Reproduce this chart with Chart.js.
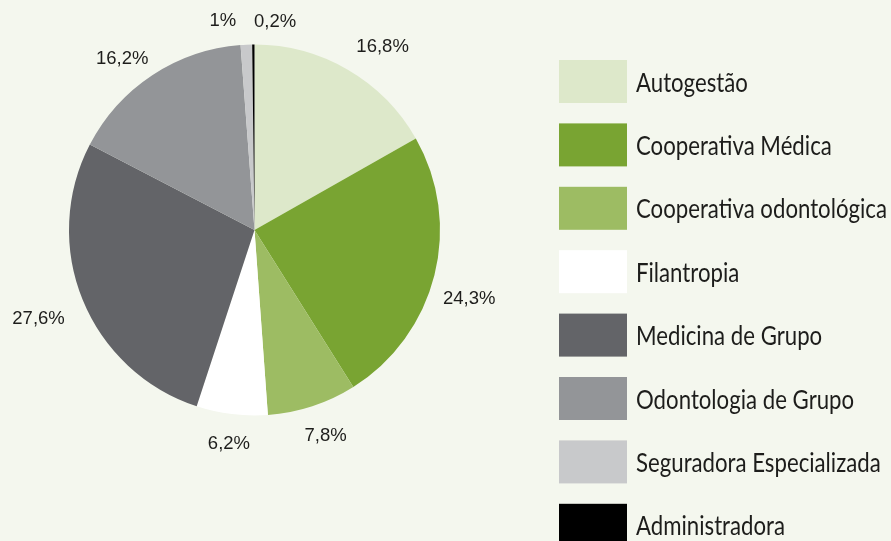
<!DOCTYPE html>
<html lang="pt-BR">
<head>
<meta charset="utf-8">
<title>Distribuição por modalidade</title>
<script src="https://cdn.jsdelivr.net/npm/chart.js@4.4.1/dist/chart.umd.min.js"></script>
<style>
  html, body { margin: 0; padding: 0; background: #f4f7ee; }
  #wrap { position: relative; width: 891px; height: 541px; }
</style>
</head>
<body>
<div id="wrap"><canvas id="pizza"></canvas></div>
<script>
// modalidades, na ordem em que as fatias aparecem (sentido horario a partir do topo)
const MODALIDADES = [
  'Autogestão',
  'Cooperativa Médica',
  'Cooperativa odontológica',
  'Filantropia',
  'Medicina de Grupo',
  'Odontologia de Grupo',
  'Seguradora Especializada',
  'Administradora',
];
const PERCENTUAIS = [16.8, 24.3, 7.8, 6.2, 27.6, 16.2, 1, 0.2];
const CORES = ['#dde8ca', '#79a432', '#9dbc63', '#ffffff', '#636468', '#939598', '#c8c9cb', '#000000'];

// ajuste fino dos rotulos: angulo (graus) e distancia radial (px)
// separa as fatias pequenas do topo e acompanha o original
const AJUSTE_ANGULO = [4.8, 3.8, -0.9, -0.2, -0.1, -4.3, -6.1, 6.0];
const AJUSTE_RAIO = [0, -4, 1.5, 3.5, 4, -8, 0, -2];

const COR_TEXTO = '#1d1d1b';

const fmt = (v) => String(v).replace('.', ',') + '%';

// rotulos de percentual fora da pizza
const rotulosPlugin = {
  id: 'rotulos',
  afterDatasetsDraw(chart) {
    const ctx = chart.ctx;
    const arcs = chart.getDatasetMeta(0).data;
    ctx.save();
    ctx.font = "18.5px 'Liberation Sans', Arial, sans-serif";
    ctx.fillStyle = COR_TEXTO;
    ctx.textAlign = 'center';
    ctx.textBaseline = 'middle';
    arcs.forEach((arc, i) => {
      const txt = fmt(PERCENTUAIS[i]);
      const w = ctx.measureText(txt).width;
      const h = 14;
      const ang = (arc.startAngle + arc.endAngle) / 2 + AJUSTE_ANGULO[i] * Math.PI / 180;
      const c = Math.cos(ang);
      const s = Math.sin(ang);
      const dist = arc.outerRadius + 17 + AJUSTE_RAIO[i] + Math.abs(c) * w / 2 + Math.abs(s) * h / 2;
      ctx.fillText(txt, arc.x + c * dist, arc.y + s * dist);
    });
    ctx.restore();
  },
};

// legenda propria: a do chart.js quebraria em duas colunas (passa da altura).
// fonte do original e condensada; comprime o Lato na horizontal pra bater a largura
const legendaPlugin = {
  id: 'legenda',
  afterDraw(chart) {
    const ctx = chart.ctx;
    ctx.save();
    ctx.font = "26.5px Lato, 'Noto Sans', sans-serif";
    const sx = 251 / ctx.measureText('Cooperativa odontológica').width;
    ctx.textAlign = 'left';
    ctx.textBaseline = 'alphabetic';
    MODALIDADES.forEach((nome, i) => {
      const y = 60 + i * 63.4;
      ctx.fillStyle = CORES[i];
      ctx.fillRect(559, y, 68, 43);
      ctx.save();
      ctx.translate(636, y + 31.6);
      ctx.scale(sx, 1);
      ctx.fillStyle = COR_TEXTO;
      ctx.fillText(nome, 0, 0);
      ctx.restore();
    });
    ctx.restore();
  },
};

new Chart(document.getElementById('pizza'), {
  type: 'pie',
  data: {
    labels: MODALIDADES,
    datasets: [{
      data: PERCENTUAIS,
      backgroundColor: CORES,
      borderWidth: 0,
      hoverOffset: 0,
      offset: 0,
    }],
  },
  options: {
    responsive: true,
    maintainAspectRatio: false,
    animation: false,
    layout: { padding: { left: 69, right: 451, top: 44.5, bottom: 125.5 } },
    plugins: {
      legend: { display: false },
      tooltip: { enabled: false },
    },
  },
  plugins: [rotulosPlugin, legendaPlugin],
});
</script>
</body>
</html>
